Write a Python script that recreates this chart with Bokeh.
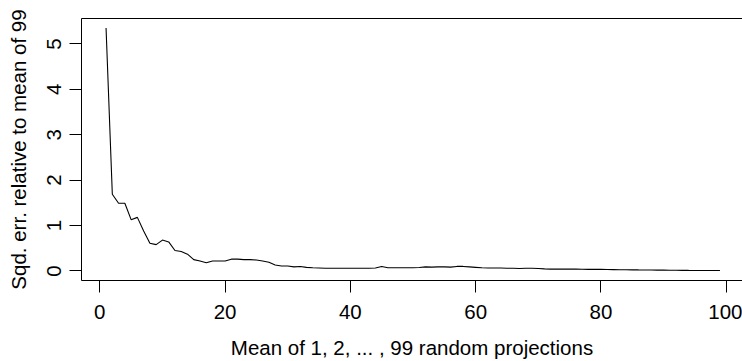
from bokeh.plotting import figure
from bokeh.models import FixedTicker, Range1d, LinearAxis
from bokeh.embed import file_html
from bokeh.resources import INLINE

n_proj = list(range(1, 100))
sq_err = [
    5.35, 1.69, 1.49, 1.49, 1.13, 1.18, 0.88, 0.61, 0.58, 0.68,
    0.64, 0.45, 0.43, 0.37, 0.25, 0.22, 0.18, 0.22, 0.22, 0.22,
    0.26, 0.26, 0.25, 0.25, 0.24, 0.22, 0.19, 0.13, 0.11, 0.11,
    0.09, 0.10, 0.08, 0.07, 0.065, 0.06, 0.06, 0.06, 0.06, 0.06,
    0.06, 0.06, 0.06, 0.065, 0.10, 0.07, 0.07, 0.07, 0.07, 0.07,
    0.075, 0.09, 0.085, 0.09, 0.09, 0.085, 0.10, 0.10, 0.09, 0.08,
    0.07, 0.065, 0.065, 0.065, 0.06, 0.06, 0.055, 0.06, 0.06, 0.055,
    0.045, 0.04, 0.04, 0.04, 0.04, 0.04, 0.038, 0.036, 0.035, 0.035,
    0.032, 0.03, 0.028, 0.026, 0.025, 0.023, 0.022, 0.02, 0.019, 0.018,
    0.016, 0.015, 0.014, 0.012, 0.011, 0.01, 0.01, 0.01, 0.01,
]
x_ticks = [0, 20, 40, 60, 80, 100]
y_ticks = [0, 1, 2, 3, 4, 5]
x_title = "Mean of 1, 2, ... , 99 random projections"
y_title = "Sqd. err. relative to mean of 99"

FONT = "Liberation Sans"
FS = "20.5px"

p = figure(width=742, height=361, output_backend="svg", toolbar_location=None,
           x_range=Range1d(-2.92, 102.6), y_range=Range1d(-0.21, 5.56),
           min_border_left=81, min_border_right=0, min_border_top=18,
           min_border_bottom=80, x_axis_location=None, y_axis_location=None)
p.grid.visible = False
# the plot box runs past the right edge of the picture: draw only its
# left, bottom and top sides
p.outline_line_color = None
p.background_fill_color = "white"
p.border_fill_color = "white"

xa = LinearAxis(axis_label=x_title)
ya = LinearAxis(axis_label=y_title)
for ax, ticks in ((xa, x_ticks), (ya, y_ticks)):
    ax.ticker = FixedTicker(ticks=ticks)
    ax.major_tick_out = 12
    ax.major_tick_in = 0
    ax.minor_tick_line_color = None
    ax.axis_line_color = "black"
    ax.major_tick_line_color = "black"
    ax.major_label_text_font = FONT
    ax.major_label_text_font_size = FS
    ax.major_label_text_color = "black"
    ax.axis_label_text_font = FONT
    ax.axis_label_text_font_size = FS
    ax.axis_label_text_font_style = "normal"
    ax.axis_label_text_color = "black"
xa.major_label_standoff = 12
xa.axis_label_standoff = 14
ya.major_label_orientation = "vertical"
ya.major_label_standoff = 8
ya.axis_label_standoff = 15
p.add_layout(xa, "below")
p.add_layout(ya, "left")

top = LinearAxis(ticker=FixedTicker(ticks=[]), major_tick_out=0, major_tick_in=0,
                 minor_tick_out=0, minor_tick_in=0, major_label_standoff=0,
                 axis_line_color="black", major_tick_line_color=None,
                 minor_tick_line_color=None)
p.add_layout(top, "above")

p.line(n_proj, sq_err, line_color="black", line_width=1.1)

open("out.html", "w").write(file_html(p, INLINE))
